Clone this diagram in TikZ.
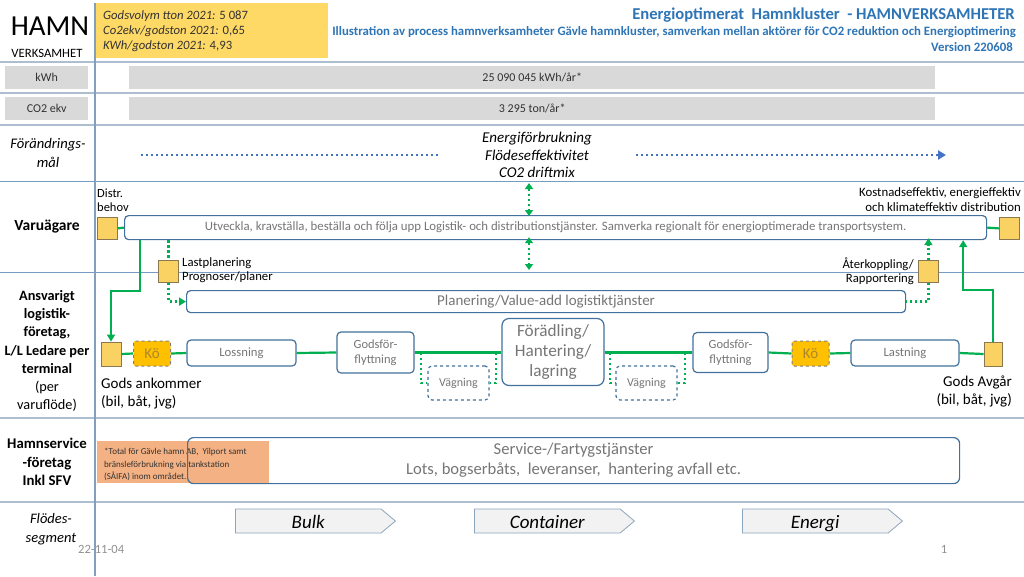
\documentclass[tikz,border=0pt]{standalone}
\usepackage{fontspec}
\setmainfont{Carlito}
\usetikzlibrary{arrows.meta,shapes.symbols,calc}
\definecolor{linegray}{RGB}{172,190,208}
\definecolor{lineblue}{RGB}{120,155,195}
\definecolor{vline}{RGB}{130,160,190}
\definecolor{boxblue}{RGB}{65,113,156}
\definecolor{grn}{RGB}{0,176,80}
\definecolor{bdotc}{RGB}{68,114,196}
\definecolor{titleblue}{RGB}{46,117,182}
\definecolor{txtgray}{RGB}{118,118,118}
\definecolor{darktxt}{RGB}{50,50,50}
\definecolor{graybox}{RGB}{217,217,217}
\definecolor{hdryellow}{RGB}{255,217,102}
\definecolor{sqyellow}{RGB}{250,210,100}
\definecolor{sqborder}{RGB}{140,120,80}
\definecolor{kogold}{RGB}{255,192,0}
\definecolor{kotxt}{RGB}{170,135,45}
\definecolor{noteorange}{RGB}{244,177,131}
\definecolor{segfill}{RGB}{242,242,242}
\definecolor{segdraw}{RGB}{140,165,190}
\newcommand\fsz[2]{\fontsize{#1}{#2}\selectfont}
\tikzset{
  thickrule/.style={draw=linegray,line width=2pt},
  thinrule/.style={draw=lineblue,line width=1pt},
  lbl/.style={inner sep=0pt,align=center,text=black},
  graylbl/.style={fill=graybox,inner sep=0pt,anchor=north west,text=darktxt,font=\fsz{12}{14}},
  procbox/.style={draw=boxblue,line width=1.2pt,rounded corners=4pt,fill=white,inner sep=0pt,text=txtgray,align=center},
  vagbox/.style={draw=boxblue,line width=1.2pt,dashed,rounded corners=4pt,fill=white,inner sep=0pt,text=txtgray,font=\fsz{12}{14}},
  kobox/.style={draw=gray,line width=1pt,dashed,rounded corners=2pt,fill=kogold,inner sep=0pt,text=kotxt,font=\fsz{15}{17},minimum width=37pt,minimum height=25pt},
  ysq/.style={draw=sqborder,line width=0.8pt,fill=sqyellow,inner sep=0pt,minimum width=20pt,minimum height=22pt},
  gline/.style={draw=grn,line width=2.2pt},
  gdot/.style={draw=grn,line width=2.4pt,dash pattern=on 2.4pt off 2.6pt},
  bdot/.style={draw=bdotc,line width=2.6pt,dash pattern=on 2.4pt off 2.6pt},
  segarrow/.style={signal,signal to=east,signal pointer angle=80,draw=segdraw,line width=0.8pt,fill=segfill,inner sep=0pt,minimum height=24pt,minimum width=160pt,text height=15pt,text depth=1pt,font=\fsz{19}{21}\itshape},
  tip/.style={-{Triangle[length=7pt,width=8pt]}},
  tips/.style={{Triangle[length=6pt,width=8pt]}-{Triangle[length=6pt,width=8pt]}}
}
\begin{document}
\begin{tikzpicture}[x=1pt,y=-1pt]
\useasboundingbox (0,0) rectangle (1024,576);
\fill[white] (0,0) rectangle (1024,576);

% header
\node[lbl,font=\fsz{29}{31}] (hamn) at (50,26) {HAMN};
\node[lbl,font=\fsz{12.7}{14}] (verks) at (47,53) {VERKSAMHET};
\node[fill=hdryellow,anchor=north west,minimum width=232pt,minimum height=55pt,inner sep=0pt] (ybox) at (96,3) {};
\node[anchor=west,inner sep=0pt,align=left,font=\fsz{12.7}{15}\itshape,text=darktxt] (ytxt) at (103,31)
  {Godsvolym tton 2021: \upshape 5 087\\\itshape Co2ekv/godston 2021: \upshape 0,65\\\itshape KWh/godston 2021: \upshape 4,93};
\node[anchor=east,inner sep=0pt,text=titleblue,font=\fsz{16.6}{18}\bfseries] (title) at (1015,15) {Energioptimerat\ \ Hamnkluster\ \ - HAMNVERKSAMHETER};
\node[anchor=east,inner sep=0pt,text=titleblue,font=\fsz{12.8}{14}\bfseries] (sub) at (1016,32) {Illustration av process hamnverksamheter Gävle hamnkluster, samverkan mellan aktörer för CO2 reduktion och Energioptimering};
\node[anchor=east,inner sep=0pt,text=titleblue,font=\fsz{12.8}{14}\bfseries] (ver) at (1013,47) {Version 220608};

% rules
\foreach \yy in {62,93,125,418,502} {\draw[thickrule] (0,\yy) -- (1024,\yy);}
\foreach \yy in {181,272} {\draw[thinrule] (0,\yy) -- (1024,\yy);}

% kWh and CO2 rows
\node[graylbl,minimum width=83pt,minimum height=23pt] (kwhl) at (5,66) {kWh};
\node[graylbl,minimum width=806pt,minimum height=23pt] (kwhb) at (129,66) {25 090 045 kWh/år*};
\node[graylbl,minimum width=83pt,minimum height=23pt] (co2l) at (5,97) {CO2 ekv};
\node[graylbl,minimum width=806pt,minimum height=23pt] (co2b) at (129,97) {3 295 ton/år*};

% Förändringsmål
\node[lbl,font=\fsz{14.6}{19}\itshape] (fmal) at (48,153) {Förändrings-\\mål};
\node[lbl,font=\fsz{15}{17.5}\itshape] (fmtxt) at (537,155) {Energiförbrukning\\Flödeseffektivitet\\CO2 driftmix};
\coordinate (bl1) at (141,155);
\coordinate (bl2) at (438,155);
\coordinate (br1) at (636,155);
\coordinate (br2) at (946,155);
\draw[bdot] (bl1) -- (bl2);
\draw[bdot,-{Triangle[length=8pt,width=9pt]}] (br1) -- (br2);

% Varuägare
\node[lbl,font=\fsz{15.5}{17}\bfseries] (varl) at (47,227) {Varuägare};
\node[procbox,minimum width=862pt,minimum height=24pt,anchor=north west,font=\fsz{12.8}{14}] (varbox) at (124,215)
  {Utveckla, kravställa, beställa och följa upp Logistik- och distributionstjänster. Samverka regionalt för energioptimerade transportsystem.};
\node[ysq,anchor=north west] (dsq) at (97,217) {};
\node[ysq,anchor=north west] (ksq) at (999,217) {};
\node[anchor=west,inner sep=0pt,align=left,font=\fsz{12.5}{14}] (distr) at (97,200) {Distr.\\behov};
\node[anchor=east,inner sep=0pt,align=right,font=\fsz{12.8}{15}] (kost) at (1021,200) {Kostnadseffektiv, energieffektiv\\och klimateffektiv distribution};
\draw[gline] (dsq.east) -- (varbox.west);
\draw[gline] (varbox.east) -- (ksq.west);

\coordinate (m1) at (529,183);
\coordinate (m2) at (529,270);
\draw[gdot,tips] (m1) -- ([yshift=-1pt]m1 |- varbox.north);
\draw[gdot,tips] ([yshift=3pt]m2 |- varbox.south) -- (m2);

% Ansvarigt logistikföretag
\node[lbl,font=\fsz{14.3}{18.2}] (ansv) at (47,351)
  {\bfseries Ansvarigt\\\bfseries logistik-\\\bfseries företag,\\\bfseries L/L Ledare per\\\bfseries terminal\\(per\\varuflöde)};

\node[ysq,anchor=north west] (lsq) at (158,260) {};
\node[anchor=west,inner sep=0pt,align=left,font=\fsz{12.7}{14}] (lastpl) at (182,270) {Lastplanering\\Prognoser/planer};
\node[ysq,anchor=north west] (rsq) at (918,260) {};
\node[anchor=east,inner sep=0pt,align=right,font=\fsz{12.7}{14}] (aterk) at (914,271) {Återkoppling/\\Rapportering};

\node[procbox,minimum width=719pt,minimum height=22pt,anchor=north west,font=\fsz{15}{17}] (plan) at (186,290) {Planering/Value-add logistiktjänster};

\draw[gdot] (lsq.north |- varbox.south) -- (lsq.north);
\draw[gdot,tip] (lsq.south) |- (plan.west);
\draw[gdot,tip] (rsq.north) -- ([yshift=2pt]rsq.north |- varbox.south);
\draw[gdot] (rsq.south) |- (plan.east);

% process chain
\node[ysq,minimum width=20pt,minimum height=24pt] (gank) at (111,354) {};
\node[kobox] (ko1) at (152,353.5) {Kö};
\node[procbox,minimum width=109pt,minimum height=26pt,font=\fsz{12.7}{14}] (loss) at (241.5,353) {Lossning};
\node[procbox,minimum width=77pt,minimum height=41pt,font=\fsz{12.5}{15}] (gf1) at (375.5,352.5) {Godsför-\\flyttning};
\node[procbox,minimum width=102pt,minimum height=67pt,font=\fsz{17.2}{20},rounded corners=7pt] (fora) at (553,352) {Förädling/\\Hantering/\\lagring};
\node[procbox,minimum width=75pt,minimum height=40pt,font=\fsz{12.5}{15}] (gf2) at (730.5,352.5) {Godsför-\\flyttning};
\node[kobox] (ko2) at (810.5,353.5) {Kö};
\node[procbox,minimum width=108pt,minimum height=26pt,font=\fsz{12.7}{14}] (last) at (905,353) {Lastning};
\node[ysq,minimum width=18pt,minimum height=24pt] (gavg) at (993,354) {};
\node[vagbox,minimum width=61pt,minimum height=34pt] (vag1) at (458.5,383) {Vägning};
\node[vagbox,minimum width=61pt,minimum height=34pt] (vag2) at (646.5,383) {Vägning};

\draw[gline] (gank.east) -- (ko1.west);
\draw[gline] (ko1.east) -- (loss.west);
\draw[gline] (loss.east) -- (gf1.west);
\draw[gline] (gf1.east) -- (fora.west |- gf1.east);
\draw[gline] (fora.east |- gf2.west) -- (gf2.west);
\draw[gline] (gf2.east) -- (ko2.west);
\draw[gline] (ko2.east) -- (last.west);
\draw[gline] (last.east) -- (gavg.west);

\coordinate (d1) at (421,353);
\coordinate (d2) at (496,353);
\coordinate (d3) at (610,353);
\coordinate (d4) at (685,353);
\draw[gdot] (d1) |- (vag1.west);
\draw[gdot] (d2) |- (vag1.east);
\draw[gdot] (d3) |- (vag2.west);
\draw[gdot] (d4) |- (vag2.east);

\draw[gline,tip] ([xshift=16pt]varbox.south west) -- ++(0,51) -| (gank.north);
\draw[gline,tip] (gavg.north) -- ++(0,-52) -| ([xshift=-24pt]varbox.south east);

\node[anchor=west,inner sep=0pt,align=left,font=\fsz{15}{18}] (gank t) at (101,394) {Gods ankommer\\(bil, båt, jvg)};
\node[anchor=east,inner sep=0pt,align=right,font=\fsz{15}{18}] (gavg t) at (1012,391) {Gods Avgår\\(bil, båt, jvg)};

% Hamnservice
\node[lbl,font=\fsz{14.8}{18.5}\bfseries] (hserv) at (47,462) {Hamnservice\\-företag\\Inkl SFV};
\node[fill=noteorange,anchor=north west,minimum width=172pt,minimum height=42pt,inner sep=0pt] (note) at (97,441) {};
\node[anchor=west,inner sep=0pt,align=left,font=\fsz{9}{12.5},text=darktxt] (notet) at (104,464.5)
  {*Total för Gävle hamn AB,\ \ Yilport samt\\bränsleförbrukning via tankstation\\(SÅIFA) inom området.};
\node[draw=boxblue,line width=1.2pt,rounded corners=6pt,inner sep=0pt,minimum width=772pt,minimum height=46pt,anchor=north west,text=txtgray,align=center,font=\fsz{16.6}{20}] (serv) at (187,437)
  {Service-/Fartygstjänster\\Lots, bogserbåts,\ \ leveranser,\ \ hantering avfall etc.};

% Flödessegment
\node[lbl,font=\fsz{14.5}{18.5}\itshape] (fseg) at (51,529) {Flödes-\\segment};
\node[segarrow,anchor=west] (bulk) at (235,521) {Bulk};
\node[segarrow,anchor=west] (cont) at (474,521) {Container};
\node[segarrow,anchor=west] (energ) at (742,521) {Energi};

\node[anchor=west,inner sep=0pt,text=txtgray!80,font=\fsz{12.6}{14}] (date) at (78,549) {22-11-04};
\node[inner sep=0pt,text=txtgray!80,font=\fsz{12.6}{14}] (pnum) at (944,549) {1};

% vertical rule
\draw[draw=vline,line width=1.2pt] (95,3) -- (95,576);
\end{tikzpicture}
\end{document}
